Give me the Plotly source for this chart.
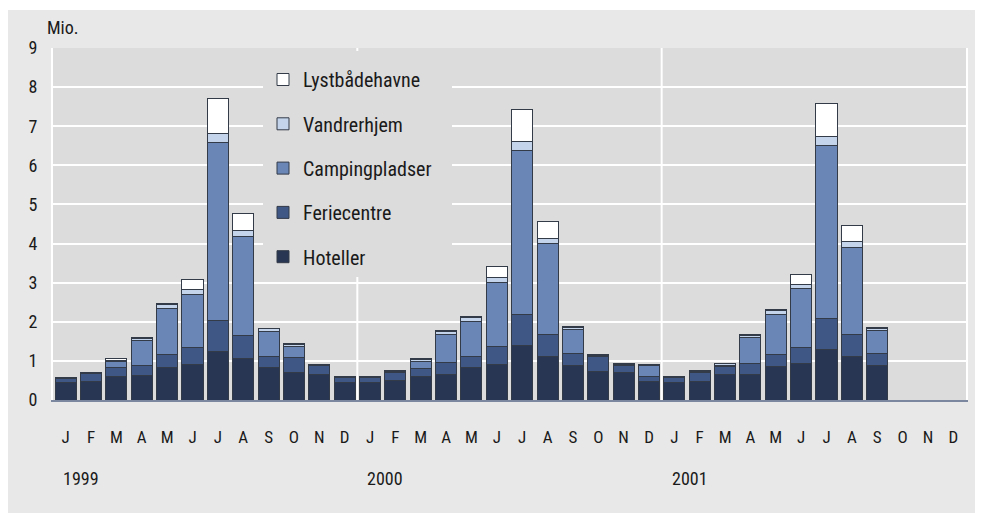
import plotly.graph_objects as go

months = ["J", "F", "M", "A", "M", "J", "J", "A", "S", "O", "N", "D"]
years = ["1999", "2000", "2001"]
month_labels = months * 3

hoteller = [0.45, 0.48, 0.60, 0.62, 0.82, 0.92, 1.25, 1.05, 0.82, 0.70, 0.66, 0.45,
            0.45, 0.49, 0.60, 0.64, 0.84, 0.92, 1.39, 1.11, 0.88, 0.72, 0.70, 0.48,
            0.46, 0.48, 0.64, 0.64, 0.85, 0.94, 1.30, 1.12, 0.88, None, None, None]
feriecentre = [0.10, 0.21, 0.22, 0.27, 0.35, 0.42, 0.79, 0.59, 0.29, 0.38, 0.21, 0.12,
               0.12, 0.22, 0.21, 0.32, 0.28, 0.44, 0.80, 0.57, 0.31, 0.40, 0.18, 0.12,
               0.12, 0.23, 0.21, 0.30, 0.31, 0.41, 0.78, 0.56, 0.31, None, None, None]
campingpladser = [0.02, 0.01, 0.16, 0.62, 1.18, 1.36, 4.55, 2.53, 0.63, 0.30, 0.03, 0.02,
                  0.01, 0.03, 0.18, 0.72, 0.90, 1.65, 4.19, 2.31, 0.60, 0.03, 0.03, 0.29,
                  0.02, 0.03, 0.04, 0.66, 1.03, 1.49, 4.43, 2.23, 0.58, None, None, None]
vandrerhjem = [0.01, 0.01, 0.04, 0.06, 0.10, 0.12, 0.23, 0.16, 0.08, 0.05, 0.01, 0.01,
               0.01, 0.01, 0.05, 0.07, 0.10, 0.11, 0.24, 0.15, 0.06, 0.02, 0.03, 0.02,
               0.00, 0.01, 0.04, 0.06, 0.11, 0.11, 0.22, 0.14, 0.07, None, None, None]
lystbaadehavne = [0.00, 0.00, 0.03, 0.02, 0.02, 0.26, 0.90, 0.43, 0.02, 0.02, 0.00, 0.00,
                  0.00, 0.00, 0.01, 0.02, 0.01, 0.29, 0.80, 0.42, 0.02, 0.00, 0.00, 0.00,
                  0.00, 0.00, 0.00, 0.02, 0.01, 0.27, 0.86, 0.41, 0.01, None, None, None]

series = [
    ("Hoteller", hoteller, "#283653"),
    ("Feriecentre", feriecentre, "#3e5785"),
    ("Campingpladser", campingpladser, "#6a86b6"),
    ("Vandrerhjem", vandrerhjem, "#c4d4ea"),
    ("Lystbådehavne", lystbaadehavne, "#ffffff"),
]

FONT = "Liberation Sans Narrow, Arial Narrow, Roboto Condensed, sans-serif"
TXT = "#1a1a1a"

x = list(range(len(month_labels)))

fig = go.Figure()
n = len(series)
for i, (name, vals, col) in enumerate(series):
    fig.add_trace(go.Bar(
        x=x, y=vals, name=name, legendgroup=name, legendrank=n - i,
        marker=dict(color=col, line=dict(color="#333a48", width=1)),
    ))

W, H = 983, 513
L, R, T, B = 45, 25, 40, 121
pw, ph = W - L - R, H - T - B

def pxx(p):
    return (p - L) / pw

def pxy(p):
    return (H - B - p) / ph

shapes = [
    # thin white strip at top of the outer panel
    dict(type="rect", xref="paper", yref="paper", layer="below",
         x0=pxx(-2), x1=pxx(W + 2), y0=pxy(2), y1=pxy(-2),
         fillcolor="white", line=dict(width=0)),
]
for k in range(1, len(years)):
    shapes.append(dict(type="line", xref="x", yref="paper", layer="below",
                       x0=12 * k - 0.5, x1=12 * k - 0.5, y0=0, y1=1,
                       line=dict(color="white", width=2)))
# legend panel background (covers grid lines)
shapes.append(dict(type="rect", xref="paper", yref="paper", layer="above",
                   x0=pxx(255), x1=pxx(444), y0=pxy(269), y1=pxy(43),
                   fillcolor="#dcdcdc", line=dict(width=0)))

annotations = [
    dict(text="Mio.", xref="paper", yref="paper", x=pxx(37), y=pxy(20),
         xanchor="left", yanchor="middle", showarrow=False,
         font=dict(family=FONT, size=18, color=TXT)),
]
for k, yr in enumerate(years):
    annotations.append(dict(text=yr, xref="x", yref="paper", x=12 * k - 0.5 + 8 / (pw / 36),
                            y=pxy(470), xanchor="left", yanchor="middle",
                            showarrow=False, font=dict(family=FONT, size=18, color=TXT)))

fig.update_layout(
    width=W, height=H,
    margin=dict(l=L, r=R, t=T, b=B, pad=0),
    barmode="stack", bargap=0.17,
    paper_bgcolor="#e8e8e8", plot_bgcolor="#dcdcdc",
    font=dict(family=FONT, size=18, color=TXT),
    showlegend=True,
    legend=dict(x=pxx(255), y=pxy(52), xanchor="left", yanchor="top",
                bgcolor="rgba(0,0,0,0)", font=dict(family=FONT, size=20, color=TXT),
                traceorder="grouped", tracegroupgap=15.3,
                borderwidth=0),
    xaxis=dict(range=[-0.5, 35.5], tickmode="array", tickvals=x, ticktext=month_labels,
               ticks="outside", ticklen=21, tickcolor="rgba(0,0,0,0)",
               showgrid=False, zeroline=False, showline=True, linecolor="#7a879e", linewidth=1.5,
               tickfont=dict(family=FONT, size=17, color=TXT), fixedrange=True),
    yaxis=dict(range=[0, 9], dtick=1, tick0=0, showgrid=True, gridcolor="white", gridwidth=2,
               showline=True, linecolor="white", linewidth=2, mirror=True, zeroline=False,
               ticks="outside", ticklen=10, tickcolor="rgba(0,0,0,0)",
               tickfont=dict(family=FONT, size=18, color=TXT), fixedrange=True),
    shapes=shapes, annotations=annotations,
)

fig.write_html("out.html")
